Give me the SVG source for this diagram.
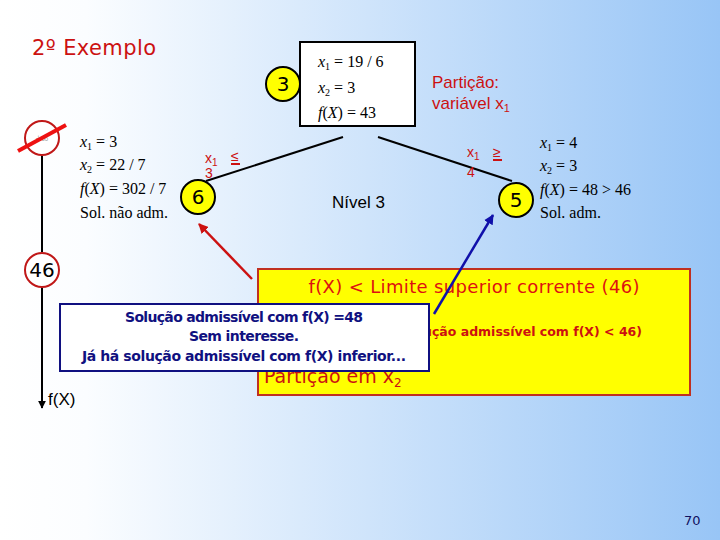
<svg xmlns="http://www.w3.org/2000/svg" width="720" height="540" viewBox="0 0 720 540">
<defs>
<linearGradient id="bg" x1="0" y1="0" x2="1" y2="0">
<stop offset="0" stop-color="#ffffff"/>
<stop offset="0.12" stop-color="#fbfdff"/>
<stop offset="1" stop-color="#98c5f6"/>
</linearGradient>
<marker id="ar" viewBox="0 0 10 10" refX="9" refY="5" markerWidth="4" markerHeight="4" orient="auto"><path d="M0,0 L10,5 L0,10 z" fill="#cc1111"/></marker>
<marker id="ab" viewBox="0 0 10 10" refX="9" refY="5" markerWidth="4" markerHeight="4" orient="auto"><path d="M0,0 L10,5 L0,10 z" fill="#1010aa"/></marker>
<marker id="ak" viewBox="0 0 10 10" refX="9" refY="5" markerWidth="4" markerHeight="4" orient="auto"><path d="M0,0 L10,5 L0,10 z" fill="#000"/></marker>
</defs>
<style>
.yc{fill:#ffff00;stroke:#000;stroke-width:2}
.rc{fill:#fff;stroke:#c01818;stroke-width:2}
.num{font-family:"DejaVu Sans",sans-serif;font-size:20px;text-anchor:middle;fill:#000}
.m{font-family:"Liberation Serif",serif;font-size:16px;fill:#000}
.i{font-style:italic}
.lab{font-family:"Liberation Sans",sans-serif;font-size:14px;fill:#cc1111}
.cs{font-family:"DejaVu Sans",sans-serif}
.ln{stroke:#000;stroke-width:2;fill:none}
.wt{font-family:"DejaVu Sans",sans-serif;font-size:14px;font-weight:bold;fill:#101080;text-anchor:middle}
</style>
<rect width="720" height="540" fill="url(#bg)"/>

<text x="32" y="55" class="cs" font-size="21" fill="#cc1111" textLength="124">2º Exemplo</text>

<g id="connectors">
<line class="ln" x1="42" y1="156" x2="42" y2="252"/>
<line class="ln" x1="42" y1="288" x2="42" y2="408" marker-end="url(#ak)"/>
<line class="ln" x1="206" y1="181" x2="343" y2="137"/>
<line class="ln" x1="378" y1="137" x2="512" y2="181"/>
<line x1="252" y1="279" x2="199" y2="224" stroke="#cc1111" stroke-width="2.5" marker-end="url(#ar)"/>
</g>

<text x="48" y="405" font-family="Liberation Sans, sans-serif" font-size="17" fill="#000">f(X)</text>

<g id="node-cut">
<circle class="rc" cx="42" cy="138" r="17"/>
<text x="42" y="142" font-family="Liberation Sans, sans-serif" font-size="10" fill="#b0b0b0" text-anchor="middle">+∞</text>
<line x1="18" y1="151" x2="66" y2="125" stroke="#ee1111" stroke-width="4"/>
</g>

<g id="node-46">
<circle class="rc" cx="42" cy="270" r="17"/>
<text x="42" y="277" class="num">46</text>
</g>

<g id="node-3">
<circle class="yc" cx="283" cy="84" r="17"/>
<text x="283" y="91" class="num">3</text>
<rect x="300" y="42" width="115" height="84" fill="#fff" stroke="#000" stroke-width="2"/>
<text x="318" y="67" class="m"><tspan class="i">x</tspan><tspan font-size="10" dy="3">1</tspan><tspan dy="-3"> = 19 / 6</tspan></text>
<text x="318" y="93" class="m"><tspan class="i">x</tspan><tspan font-size="10" dy="3">2</tspan><tspan dy="-3"> = 3</tspan></text>
<text x="318" y="118" class="m"><tspan class="i">f</tspan>(<tspan class="i">X</tspan>) = 43</text>
</g>

<g id="label-particao">
<text x="432" y="88" font-family="Liberation Sans, sans-serif" font-size="17" fill="#cc1111">Partição:</text>
<text x="432" y="109" font-family="Liberation Sans, sans-serif" font-size="17" fill="#cc1111">variável x<tspan font-size="11" dy="3">1</tspan></text>
</g>

<g id="sol-left">
<text x="80" y="147" class="m"><tspan class="i">x</tspan><tspan font-size="10" dy="3">1</tspan><tspan dy="-3"> = 3</tspan></text>
<text x="80" y="170" class="m"><tspan class="i">x</tspan><tspan font-size="10" dy="3">2</tspan><tspan dy="-3"> = 22 / 7</tspan></text>
<text x="80" y="194" class="m"><tspan class="i">f</tspan>(<tspan class="i">X</tspan>) = 302 / 7</text>
<text x="80" y="218" class="m">Sol. não adm.</text>
</g>

<g id="label-le">
<text x="205" y="163" class="lab">x<tspan font-size="10" dy="3">1</tspan></text>
<text x="231" y="161" class="lab">≤</text>
<line x1="231" y1="164" x2="240" y2="164" stroke="#cc1111" stroke-width="2"/>
<text x="205" y="178" class="lab">3</text>
</g>

<g id="node-6">
<circle class="yc" cx="198" cy="197" r="17"/>
<text x="198" y="204" class="num">6</text>
</g>

<text x="332" y="208" font-family="Liberation Sans, sans-serif" font-size="17" fill="#000">Nível 3</text>

<g id="label-ge">
<text x="467" y="157" class="lab">x<tspan font-size="10" dy="3">1</tspan></text>
<text x="493" y="157" class="lab">≥</text>
<line x1="493" y1="160" x2="502" y2="160" stroke="#cc1111" stroke-width="2"/>
<text x="467" y="177" class="lab">4</text>
</g>

<g id="node-5">
<circle class="yc" cx="516" cy="200" r="17"/>
<text x="516" y="207" class="num">5</text>
</g>

<g id="sol-right">
<text x="540" y="148" class="m"><tspan class="i">x</tspan><tspan font-size="10" dy="3">1</tspan><tspan dy="-3"> = 4</tspan></text>
<text x="540" y="171" class="m"><tspan class="i">x</tspan><tspan font-size="10" dy="3">2</tspan><tspan dy="-3"> = 3</tspan></text>
<text x="540" y="195" class="m"><tspan class="i">f</tspan>(<tspan class="i">X</tspan>) = 48 &gt; 46</text>
<text x="540" y="218" class="m">Sol. adm.</text>
</g>

<g id="box-yellow">
<rect x="258" y="269" width="432" height="126" fill="#ffff00" stroke="#c03020" stroke-width="2"/>
<text x="474" y="293" class="cs" font-size="18" fill="#dd1111" text-anchor="middle" textLength="331">f(X) &lt; Limite superior corrente (46)</text>
<text x="642" y="336" class="cs" font-size="12.5" font-weight="bold" fill="#cc1111" text-anchor="end">(Solução admissível com f(X) &lt; 46)</text>
<text x="264" y="383" class="cs" font-size="19" fill="#cc1111">Partição em x<tspan font-size="12" dy="4">2</tspan></text>
</g>

<g id="connector-blue">
<line x1="434" y1="314" x2="493" y2="215" stroke="#1010aa" stroke-width="2.5" marker-end="url(#ab)"/>
</g>

<g id="box-white">
<rect x="60" y="304" width="369" height="67" fill="#fff" stroke="#101080" stroke-width="2"/>
<text x="244" y="322" class="wt" textLength="238">Solução admissível com f(X) =48</text>
<text x="244" y="341" class="wt" textLength="110">Sem interesse.</text>
<text x="244" y="361" class="wt" textLength="324">Já há solução admissível com f(X) inferior...</text>
</g>

<text x="684" y="525" class="cs" font-size="13" fill="#101060">70</text>
</svg>
